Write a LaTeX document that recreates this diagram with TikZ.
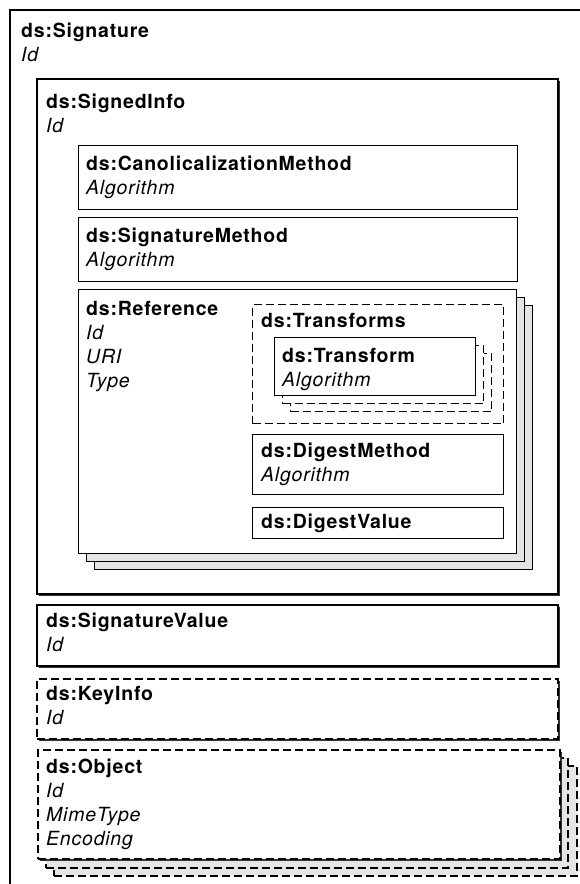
\documentclass[tikz,border=0pt]{standalone}
\usepackage{fontspec}
\setmainfont{TeX Gyre Heros}[LetterSpace=4]
\usepackage{tikz}
\usetikzlibrary{positioning, shadows}

\begin{document}
\begin{tikzpicture}[
    x=1pt, y=-1pt, % pixel units, y runs downwards
    elem/.style={draw, fill=white, anchor=north west, inner sep=0pt, line width=1.1pt},
    outer/.style={elem, line width=1.6pt},
    shade/.style={drop shadow={shadow xshift=2pt, shadow yshift=-2pt, fill=black!80, opacity=1}},
    stackcopy/.style={elem, fill=black!10},
    optional/.style={dash pattern=on 8pt off 4pt},
    lbl/.style={anchor=north west, inner sep=0pt, align=left, font=\fontsize{19.5pt}{24pt}\selectfont}
]
    \clip (0,0) rectangle (580,884);

    % 1. The outer element
    \node[outer, minimum width=600pt, minimum height=900pt] (sig) at (9,9) {};
    \node[lbl] (sigL) at ([shift={(12,14)}]sig.north west) {\textbf{ds:Signature}\\\textit{Id}};

    % 2. SignedInfo and its children
    \node[outer, shade, minimum width=521pt, minimum height=515pt] (info) at (36,78) {};
    \node[lbl] (infoL) at ([shift={(10,16)}]info.north west) {\textbf{ds:SignedInfo}\\\textit{Id}};

    \node[elem, minimum width=439pt, minimum height=64pt] (canon) at (78,145) {};
    \node[lbl] (canonL) at ([shift={(8,11)}]canon.north west) {\textbf{ds:CanolicalizationMethod}\\\textit{Algorithm}};

    \node[elem, minimum width=439pt, minimum height=64pt] (method) at (78,217) {};
    \node[lbl] (methodL) at ([shift={(8,11)}]method.north west) {\textbf{ds:SignatureMethod}\\\textit{Algorithm}};

    % Reference (repeated)
    \node[stackcopy, minimum width=438pt, minimum height=264pt] (refC) at (94,305) {};
    \node[stackcopy, minimum width=438pt, minimum height=264pt] (refB) at (86,297) {};
    \node[elem, minimum width=438pt, minimum height=264pt] (ref) at (78,289) {};
    \node[lbl] (refL) at ([shift={(8,12)}]ref.north west) {\textbf{ds:Reference}\\\textit{Id}\\\textit{URI}\\\textit{Type}};

    \node[elem, optional, minimum width=251pt, minimum height=119pt] (trans) at (252,304) {};
    \node[lbl] (transL) at ([shift={(9,9)}]trans.north west) {\textbf{ds:Transforms}};

    \node[elem, optional, minimum width=201pt, minimum height=58pt] (tfC) at (290,353) {};
    \node[elem, optional, minimum width=201pt, minimum height=58pt] (tfB) at (282,345) {};
    \node[elem, minimum width=201pt, minimum height=58pt] (tf) at (274,337) {};
    \node[lbl] (tfL) at ([shift={(8,11)}]tf.north west) {\textbf{ds:Transform}\\\textit{Algorithm}};

    \node[elem, minimum width=251pt, minimum height=60pt] (dmethod) at (252,434) {};
    \node[lbl] (dmethodL) at ([shift={(9,9)}]dmethod.north west) {\textbf{ds:DigestMethod}\\\textit{Algorithm}};

    \node[elem, minimum width=251pt, minimum height=31pt] (dvalue) at (252,507) {};
    \node[lbl] (dvalueL) at ([shift={(9,7)}]dvalue.north west) {\textbf{ds:DigestValue}};

    % 3. The remaining children of the signature
    \node[outer, shade, minimum width=521pt, minimum height=61pt] (value) at (36,604) {};
    \node[lbl] (valueL) at ([shift={(10,9)}]value.north west) {\textbf{ds:SignatureValue}\\\textit{Id}};

    \node[outer, optional, shade, minimum width=521pt, minimum height=60pt] (key) at (36,678) {};
    \node[lbl] (keyL) at ([shift={(10,8)}]key.north west) {\textbf{ds:KeyInfo}\\\textit{Id}};

    % Object (repeated)
    \node[stackcopy, optional, line width=1.6pt, minimum width=523pt, minimum height=110pt] (objC) at (53,765) {};
    \node[stackcopy, optional, line width=1.6pt, minimum width=522pt, minimum height=110pt] (objB) at (45,757) {};
    \node[outer, optional, shade, minimum width=522pt, minimum height=109pt] (obj) at (37,749) {};
    \node[lbl] (objL) at ([shift={(9,10)}]obj.north west) {\textbf{ds:Object}\\\textit{Id}\\\textit{MimeType}\\\textit{Encoding}};
\end{tikzpicture}
\end{document}
